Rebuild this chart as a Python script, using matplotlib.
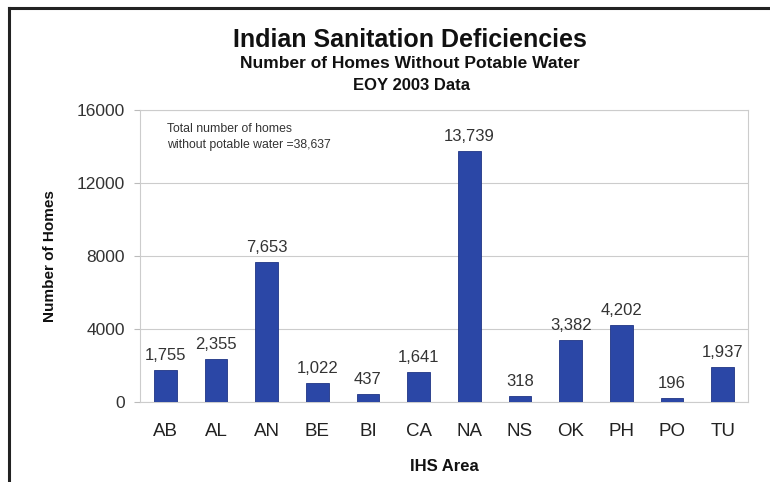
import matplotlib
matplotlib.use("Agg")
import matplotlib.pyplot as plt
from matplotlib.lines import Line2D

categories = ["AB", "AL", "AN", "BE", "BI", "CA", "NA", "NS", "OK", "PH", "PO", "TU"]
homes = [1755, 2355, 7653, 1022, 437, 1641, 13739, 318, 3382, 4202, 196, 1937]
yticks = [0, 4000, 8000, 12000, 16000]

plt.rcParams['font.family'] = ['Liberation Sans', 'DejaVu Sans']

W, H = 770, 482
fig = plt.figure(figsize=(W / 100, H / 100), dpi=100)
fig.patch.set_facecolor('white')

ax = fig.add_axes([140 / W, 1 - 402 / H, 608 / W, 292 / H])
x = list(range(len(categories)))
ax.bar(x, homes, width=0.45, color='#2b47a6', edgecolor='#1f3585', linewidth=0.6, zorder=3)
for xi, v in zip(x, homes):
    ax.text(xi, v + 380, f"{v:,}", ha='center', va='bottom', fontsize=12, color='#333333')

ax.set_xlim(-0.5, len(categories) - 0.5)
ax.set_ylim(0, 16000)
ax.set_yticks(yticks)
ax.set_yticklabels([str(t) for t in yticks], fontsize=12.5, color='#333333')
ax.set_xticks(x)
ax.set_xticklabels(categories, fontsize=13.5, color='#222222')
ax.tick_params(axis='x', length=0, pad=15)
ax.tick_params(axis='y', length=4, color='#bbbbbb', pad=7)
ax.grid(axis='y', color='#cccccc', linewidth=0.8, zorder=0)
for s in ax.spines.values():
    s.set_color('#cccccc')
    s.set_linewidth(0.8)
ax.set_ylabel("Number of Homes", fontsize=11, fontweight='bold', color='#111111', labelpad=14)
ax.set_xlabel("IHS Area", fontsize=12, fontweight='bold', color='#111111', labelpad=14)

ax.text(0.045, 0.955, "Total number of homes\nwithout potable water =38,637",
        transform=ax.transAxes, ha='left', va='top', fontsize=8.8, color='#333333',
        linespacing=1.45)

fig.text(410 / W, 1 - 40 / H, "Indian Sanitation Deficiencies", ha='center', va='center',
         fontsize=18, fontweight='bold', color='#111111')
fig.text(410 / W, 1 - 63 / H, "Number of Homes Without Potable Water", ha='center', va='center',
         fontsize=12.5, fontweight='bold', color='#111111')
fig.text(412 / W, 1 - 86 / H, "EOY 2003 Data", ha='center', va='center',
         fontsize=12, fontweight='bold', color='#111111')

# outer frame (top and left only)
fig.add_artist(Line2D([8.5 / W, 1.0], [1 - 7.5 / H, 1 - 7.5 / H], transform=fig.transFigure,
                      color='#222222', linewidth=2.2))
fig.add_artist(Line2D([8.5 / W, 8.5 / W], [0, 1 - 7.5 / H], transform=fig.transFigure,
                      color='#222222', linewidth=2.2))

fig.savefig("out.png", dpi=100)
